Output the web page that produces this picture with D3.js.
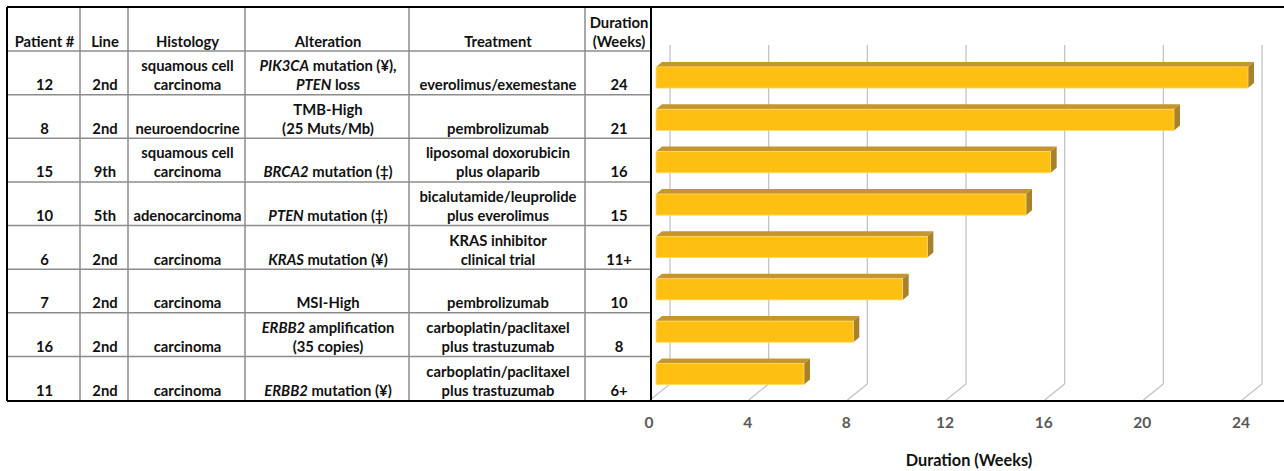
<!DOCTYPE html>
<html>
<head>
<meta charset="utf-8">
<script src="https://cdn.jsdelivr.net/npm/d3@7"></script>
<style>
  html, body { margin: 0; padding: 0; background: #fff; }
  svg { display: block; }
  text { font-family: Lato, "Open Sans", sans-serif; font-weight: bold; }
</style>
</head>
<body>
<script>
// ---------- data ----------
const headers = [["Patient #"], ["Line"], ["Histology"], ["Alteration"], ["Treatment"], ["Duration", "(Weeks)"]];
const patients = ["12", "8", "15", "10", "6", "7", "16", "11"];
const lines = ["2nd", "2nd", "9th", "5th", "2nd", "2nd", "2nd", "2nd"];
const histology = [
  ["squamous cell", "carcinoma"], ["neuroendocrine"], ["squamous cell", "carcinoma"], ["adenocarcinoma"],
  ["carcinoma"], ["carcinoma"], ["carcinoma"], ["carcinoma"]
];
// *text* = italic (gene names)
const alterations = [
  ["*PIK3CA* mutation (¥),", "*PTEN* loss"], ["TMB-High", "(25 Muts/Mb)"], ["*BRCA2* mutation (‡)"], ["*PTEN* mutation (‡)"],
  ["*KRAS* mutation (¥)"], ["MSI-High"], ["*ERBB2* amplification", "(35 copies)"], ["*ERBB2* mutation (¥)"]
];
const treatments = [
  ["everolimus/exemestane"], ["pembrolizumab"], ["liposomal doxorubicin", "plus olaparib"], ["bicalutamide/leuprolide", "plus everolimus"],
  ["KRAS inhibitor", "clinical trial"], ["pembrolizumab"], ["carboplatin/paclitaxel", "plus trastuzumab"], ["carboplatin/paclitaxel", "plus trastuzumab"]
];
const durationLabels = ["24", "21", "16", "15", "11+", "10", "8", "6+"];
const durations = [24, 21, 16, 15, 11, 10, 8, 6];
const xTicks = [0, 4, 8, 12, 16, 20, 24];
const axisTitle = "Duration (Weeks)";

// ---------- layout ----------
const W = 1284, H = 471;
const colEdges = [7, 80, 128, 245, 409, 585, 651];
const tableTop = 7, headerBottom = 51, tableBottom = 400;
const lineGap = 19;

const svg = d3.select("body").append("svg").attr("width", W).attr("height", H);

const rowIdx = d3.range(patients.length);
const yRow = d3.scaleBand().domain(rowIdx).range([headerBottom, tableBottom]).padding(0);

// ---------- chart (right) ----------
const x = d3.scaleLinear().domain([0, 24]).range([656, 1248]);
const yBar = d3.scaleBand().domain(rowIdx).range([56.3, 395.2]).paddingInner(0.5).paddingOuter(0.25);
const depthX = 14, depthY = 16, floorY = 384, wallTop = 45;
const bx = 6, by = 5;

const grid = svg.append("g");
grid.selectAll("line.v").data(xTicks).join("line").attr("class", "v")
  .attr("x1", d => x(d) + depthX).attr("x2", d => x(d) + depthX)
  .attr("y1", wallTop).attr("y2", floorY)
  .attr("stroke", "#c3c3c3").attr("stroke-width", 1.3);
grid.selectAll("line.f").data(xTicks).join("line").attr("class", "f")
  .attr("x1", d => x(d) + depthX).attr("y1", floorY)
  .attr("x2", d => x(d) - 6).attr("y2", floorY + depthY)
  .attr("stroke", "#c3c3c3").attr("stroke-width", 1.3);

const bars = svg.append("g").selectAll("g").data(durations).join("g");
bars.append("path")
  .attr("d", (d, i) => {
    const y0 = yBar(i), x0 = x(0), x1 = x(d);
    return `M${x0},${y0}L${x0 + bx},${y0 - by}L${x1 + bx},${y0 - by}L${x1},${y0}Z`;
  })
  .attr("fill", "#c6952c");
bars.append("path")
  .attr("d", (d, i) => {
    const y0 = yBar(i), h = yBar.bandwidth(), x1 = x(d);
    return `M${x1},${y0}L${x1 + bx},${y0 - by}L${x1 + bx},${y0 + h - by}L${x1},${y0 + h}Z`;
  })
  .attr("fill", "#a8822a");
bars.append("rect")
  .attr("x", x(0)).attr("y", (d, i) => yBar(i))
  .attr("width", d => x(d) - x(0)).attr("height", yBar.bandwidth())
  .attr("fill", "#fdc012").attr("stroke", "#ffd966").attr("stroke-width", 0.8);

svg.append("g").selectAll("text").data(xTicks).join("text")
  .attr("x", d => x(d) - 7).attr("y", 428)
  .attr("text-anchor", "middle").attr("font-size", 15.5).attr("fill", "#595959")
  .text(d => d);

svg.append("text").attr("x", 969).attr("y", 466).attr("text-anchor", "middle")
  .attr("font-size", 16.3).attr("fill", "#111").text(axisTitle);

// ---------- table (left) ----------
const grey = svg.append("g").attr("stroke", "#8c8c8c").attr("stroke-width", 1.5);
colEdges.slice(1, -1).forEach(cx => grey.append("line").attr("x1", cx).attr("x2", cx).attr("y1", tableTop).attr("y2", tableBottom));
[headerBottom].concat(rowIdx.slice(1).map(i => yRow(i))).forEach(ry =>
  grey.append("line").attr("x1", colEdges[0]).attr("x2", colEdges[colEdges.length - 1]).attr("y1", ry).attr("y2", ry));

function writeCell(g, cx, bottom, textLines) {
  const n = textLines.length;
  textLines.forEach((ln, k) => {
    const t = g.append("text").attr("x", cx).attr("y", bottom - 4.5 - (n - 1 - k) * lineGap)
      .attr("text-anchor", "middle").attr("font-size", 14.8).attr("fill", "#111");
    ln.split(/(\*[^*]+\*)/).filter(s => s.length).forEach(seg => {
      if (seg.startsWith("*")) t.append("tspan").attr("font-style", "italic").text(seg.slice(1, -1));
      else t.append("tspan").text(seg);
    });
  });
}

const tg = svg.append("g");
const colCenter = i => (colEdges[i] + colEdges[i + 1]) / 2 + 1;
headers.forEach((h, c) => writeCell(tg, colCenter(c), headerBottom, h));
const columns = [patients.map(d => [d]), lines.map(d => [d]), histology, alterations, treatments, durationLabels.map(d => [d])];
columns.forEach((col, c) => col.forEach((cell, r) => writeCell(tg, colCenter(c), yRow(r) + yRow.bandwidth(), cell)));

// ---------- outer borders ----------
const blk = svg.append("g").attr("stroke", "#000").attr("stroke-width", 2);
blk.append("line").attr("x1", 7).attr("x2", W).attr("y1", 7).attr("y2", 7);
blk.append("line").attr("x1", 7).attr("x2", W).attr("y1", 401).attr("y2", 401);
blk.append("line").attr("x1", 7).attr("x2", 7).attr("y1", 7).attr("y2", 401);
blk.append("line").attr("x1", 651).attr("x2", 651).attr("y1", 7).attr("y2", 401);
</script>
</body>
</html>
